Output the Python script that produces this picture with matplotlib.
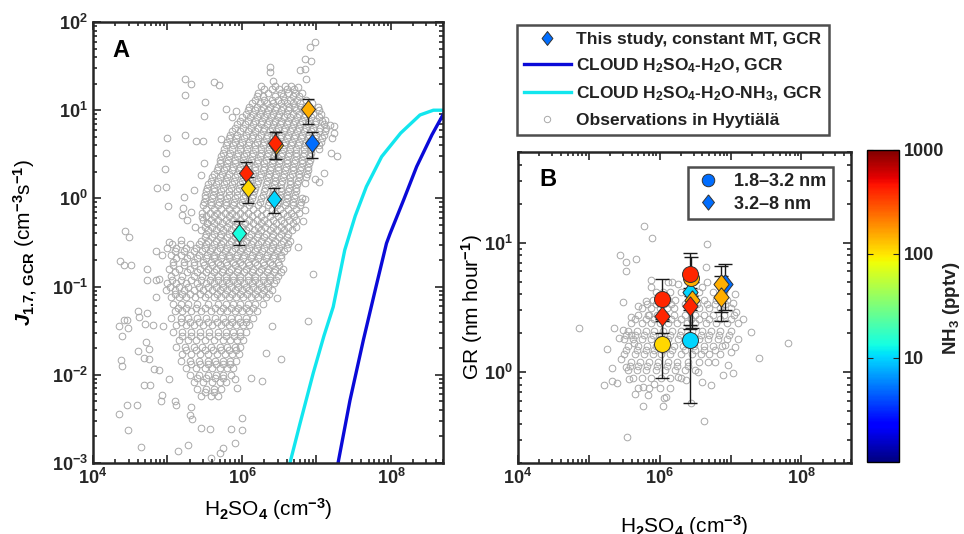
import numpy as np
import matplotlib.pyplot as plt
from matplotlib.colors import LogNorm
from matplotlib.lines import Line2D
from matplotlib.ticker import LogLocator, NullFormatter, FixedLocator, FixedFormatter

plt.rcParams['font.family'] = ['Liberation Sans', 'DejaVu Sans']
plt.rcParams['font.weight'] = 'bold'
plt.rcParams['mathtext.fontset'] = 'custom'
plt.rcParams['mathtext.rm'] = 'Liberation Sans:bold'
plt.rcParams['mathtext.bf'] = 'Liberation Sans:bold'
plt.rcParams['mathtext.it'] = 'Liberation Sans:italic:bold'
plt.rcParams['text.color'] = '#222222'

# ---- panel A: observations in Hyytiala (log10 H2SO4, log10 J)
obs_a_logx = [6.98, 6.91, 6.85, 6.93, 6.84, 6.78, 6.37, 6.38, 6.41, 6.75, 6.86,
              5.23, 5.32, 5.62, 5.69, 5.24, 5.50, 5.49, 5.78, 5.86, 5.92,
              4.99, 5.23, 5.38, 5.48, 5.72, 4.98, 4.96, 4.86, 4.98, 5.01,
              5.22, 5.21, 5.35, 5.45, 5.49, 4.43, 4.49, 5.02, 5.18,
              7.11, 7.18, 7.24, 7.23, 7.21, 7.19, 7.27, 7.10, 6.98, 7.03,
              6.85, 6.85, 6.82, 6.84,
              5.20, 5.26, 5.32, 5.37, 5.46, 5.45, 5.53,
              4.36, 4.42, 4.51, 4.73, 4.73, 4.84, 4.89, 4.85, 4.92, 4.85,
              4.60, 4.72, 4.62, 4.42, 4.35, 4.39, 4.70, 4.80, 4.94, 4.71,
              4.61, 4.75, 4.69, 4.75, 4.39, 4.82, 4.88, 5.02, 4.68, 4.77,
              4.92, 4.91, 4.59, 4.35, 4.47, 4.65, 5.14, 5.28, 5.10, 5.12,
              5.32, 5.30, 5.33, 5.45, 5.57, 5.85, 6.00, 6.00, 5.90, 5.75,
              5.70, 5.59, 4.45, 4.47, 4.37, 4.45,
              6.95, 6.89, 6.53, 6.32, 6.27, 6.12, 6.40, 6.47, 6.75, 5.93, 5.91]
obs_a_logy = [1.77, 1.72, 1.58, 1.56, 1.47, 1.46, 1.49, 1.43, 1.33, 1.26, 1.35,
              1.35, 1.30, 1.32, 1.29, 1.17, 1.09, 0.93, 1.01, 0.92, 0.99,
              0.69, 0.72, 0.65, 0.65, 0.67, 0.52, 0.33, 0.12, 0.13, -0.09,
              0.02, -0.11, 0.10, 0.26, 0.40, -0.37, -0.44, -0.49, -0.47,
              0.89, 0.83, 0.82, 0.74, 0.68, 0.52, 0.48, 0.29, 0.22, 0.19,
              0.17, -0.01, -0.26, -0.13,
              -0.19, -0.245, -0.15, -0.32, -0.21, -0.36, -0.28,
              -0.71, -0.75, -0.75, -0.80, -0.93, -0.92, -0.91, -0.60, -0.64, -1.12,
              -1.28, -1.30, -1.34, -1.38, -1.45, -1.56, -1.42, -1.44, -1.45, -1.63,
              -1.73, -1.71, -1.81, -1.82, -1.90, -1.93, -1.95, -2.05, -2.12, -2.11,
              -2.23, -2.30, -2.34, -2.44, -2.63, -2.82, -2.86, -2.80, -2.30, -2.34,
              -2.36, -2.46, -2.50, -2.60, -2.61, -2.61, -2.63, -2.49, -2.77, -2.83,
              -2.89, -2.94, -1.38, -1.47, -1.83, -2.34,
              -0.86, -1.39, -1.82, -1.75, -2.07, -2.04, -1.45, -1.13, -0.55, -2.15, -2.05]
# dense core of the cloud, row by row: (log10 J, [log10 H2SO4 ...])
obs_a_core = [
    (1.28, [6.25, 6.45, 6.58, 6.66]),
    (1.24, [6.30, 6.40, 6.50, 6.60, 6.70]),
    (1.20, [6.22, 6.35, 6.52, 6.62, 6.71, 6.80]),
    (1.16, [6.20, 6.28, 6.44, 6.55, 6.68, 6.76]),
    (1.12, [6.18, 6.30, 6.40, 6.49, 6.57, 6.65, 6.74, 6.86]),
    (1.08, [6.14, 6.24, 6.33, 6.42, 6.52, 6.60, 6.69, 6.78, 6.94]),
    (1.04, [6.10, 6.20, 6.28, 6.37, 6.46, 6.55, 6.63, 6.70, 6.79, 6.90, 7.02]),
    (1.00, [6.08, 6.17, 6.26, 6.35, 6.44, 6.53, 6.62, 6.72, 6.82, 6.92, 7.04]),
    (0.96, [6.05, 6.15, 6.24, 6.33, 6.42, 6.50, 6.60, 6.68, 6.76, 6.85, 6.95, 7.06]),
    (0.92, [6.00, 6.11, 6.20, 6.30, 6.39, 6.48, 6.57, 6.65, 6.74, 6.83, 6.93, 7.03]),
    (0.88, [5.98, 6.08, 6.18, 6.27, 6.36, 6.45, 6.53, 6.62, 6.71, 6.80, 6.90, 7.00, 7.08]),
    (0.84, [5.94, 6.04, 6.15, 6.25, 6.33, 6.42, 6.51, 6.60, 6.69, 6.78, 6.88, 6.98, 7.10]),
    (0.80, [5.90, 6.01, 6.12, 6.22, 6.30, 6.40, 6.49, 6.58, 6.67, 6.76, 6.86, 6.95, 7.05, 7.13]),
    (0.76, [5.87, 5.97, 6.08, 6.18, 6.28, 6.37, 6.46, 6.56, 6.65, 6.74, 6.83, 6.93, 7.03, 7.12]),
    (0.72, [5.84, 5.94, 6.05, 6.15, 6.25, 6.34, 6.44, 6.53, 6.62, 6.71, 6.80, 6.90, 7.00, 7.10]),
    (0.68, [5.82, 5.92, 6.03, 6.13, 6.22, 6.32, 6.42, 6.51, 6.60, 6.70, 6.79, 6.88, 6.98, 7.08]),
    (0.64, [5.80, 5.90, 6.00, 6.10, 6.20, 6.30, 6.39, 6.48, 6.58, 6.67, 6.76, 6.86, 6.96, 7.06]),
    (0.60, [5.78, 5.88, 5.98, 6.08, 6.18, 6.28, 6.37, 6.47, 6.56, 6.66, 6.75, 6.84, 6.95, 7.04]),
    (0.56, [5.76, 5.86, 5.97, 6.07, 6.17, 6.26, 6.36, 6.45, 6.55, 6.64, 6.73, 6.83, 6.93, 7.03]),
    (0.52, [5.74, 5.84, 5.95, 6.05, 6.15, 6.25, 6.35, 6.44, 6.54, 6.63, 6.73, 6.83, 6.93]),
    (0.48, [5.72, 5.82, 5.93, 6.03, 6.14, 6.24, 6.33, 6.43, 6.52, 6.62, 6.72, 6.82, 6.92]),
    (0.44, [5.71, 5.81, 5.91, 6.02, 6.12, 6.22, 6.32, 6.42, 6.51, 6.61, 6.71, 6.81, 6.91]),
    (0.40, [5.70, 5.80, 5.90, 6.00, 6.10, 6.20, 6.30, 6.40, 6.50, 6.60, 6.70, 6.80, 6.90]),
    (0.36, [5.68, 5.78, 5.88, 5.98, 6.08, 6.18, 6.29, 6.39, 6.49, 6.59, 6.69, 6.79, 6.89]),
    (0.32, [5.66, 5.76, 5.86, 5.96, 6.06, 6.17, 6.28, 6.38, 6.48, 6.58, 6.68, 6.78, 6.88]),
    (0.28, [5.63, 5.73, 5.83, 5.94, 6.04, 6.15, 6.26, 6.36, 6.46, 6.57, 6.67, 6.77, 6.87]),
    (0.24, [5.60, 5.70, 5.80, 5.91, 6.02, 6.13, 6.24, 6.35, 6.45, 6.55, 6.65, 6.76, 6.86]),
    (0.20, [5.58, 5.68, 5.78, 5.89, 6.00, 6.11, 6.22, 6.33, 6.44, 6.54, 6.65, 6.75]),
    (0.16, [5.55, 5.65, 5.76, 5.87, 5.98, 6.09, 6.20, 6.32, 6.43, 6.53, 6.64, 6.74]),
    (0.12, [5.53, 5.63, 5.74, 5.85, 5.96, 6.07, 6.18, 6.31, 6.42, 6.53, 6.63, 6.73]),
    (0.08, [5.52, 5.62, 5.72, 5.83, 5.94, 6.05, 6.16, 6.30, 6.41, 6.52, 6.62, 6.72]),
    (0.04, [5.51, 5.61, 5.71, 5.82, 5.93, 6.04, 6.15, 6.28, 6.40, 6.51, 6.61, 6.71]),
    (0.00, [5.50, 5.60, 5.70, 5.80, 5.91, 6.02, 6.13, 6.26, 6.38, 6.50, 6.60, 6.70, 6.80]),
    (-0.04, [5.49, 5.59, 5.69, 5.79, 5.89, 6.00, 6.11, 6.24, 6.36, 6.48, 6.59, 6.69, 6.79]),
    (-0.08, [5.48, 5.58, 5.68, 5.78, 5.88, 5.98, 6.10, 6.22, 6.35, 6.47, 6.58, 6.68, 6.78]),
    (-0.12, [5.52, 5.62, 5.72, 5.82, 5.92, 6.03, 6.15, 6.27, 6.40, 6.51, 6.62, 6.72]),
    (-0.16, [5.47, 5.57, 5.67, 5.77, 5.87, 5.97, 6.08, 6.20, 6.32, 6.44, 6.55, 6.66, 6.76]),
    (-0.20, [5.52, 5.62, 5.72, 5.82, 5.92, 6.03, 6.14, 6.26, 6.37, 6.48, 6.60, 6.70]),
    (-0.24, [5.48, 5.58, 5.68, 5.78, 5.88, 5.98, 6.09, 6.20, 6.30, 6.41, 6.52, 6.63, 6.73]),
    (-0.28, [5.53, 5.63, 5.73, 5.83, 5.93, 6.04, 6.15, 6.25, 6.35, 6.46, 6.57, 6.68]),
    (-0.32, [5.50, 5.60, 5.70, 5.80, 5.90, 6.00, 6.10, 6.21, 6.31, 6.42, 6.52, 6.62, 6.72]),
    (-0.36, [5.55, 5.65, 5.75, 5.85, 5.95, 6.05, 6.16, 6.26, 6.37, 6.47, 6.57, 6.67]),
    (-0.40, [5.52, 5.62, 5.72, 5.82, 5.92, 6.02, 6.12, 6.22, 6.32, 6.42, 6.52, 6.62]),
    (-0.44, [5.50, 5.60, 5.70, 5.80, 5.90, 6.00, 6.10, 6.20, 6.30, 6.40, 6.50, 6.60]),
    (-0.48, [5.45, 5.55, 5.65, 5.75, 5.85, 5.95, 6.05, 6.15, 6.25, 6.35, 6.45, 6.55, 6.65]),
    (-0.52, [5.06, 5.18, 5.30, 5.42, 5.52, 5.62, 5.72, 5.82, 5.92, 6.02, 6.12, 6.22, 6.32, 6.42, 6.52, 6.62]),
    (-0.56, [5.00, 5.12, 5.25, 5.38, 5.50, 5.60, 5.70, 5.80, 5.90, 6.00, 6.10, 6.20, 6.30, 6.40, 6.50, 6.60]),
    (-0.60, [5.10, 5.22, 5.35, 5.46, 5.57, 5.67, 5.77, 5.87, 5.97, 6.07, 6.17, 6.27, 6.37, 6.47, 6.57]),
    (-0.64, [5.05, 5.18, 5.30, 5.42, 5.53, 5.63, 5.73, 5.83, 5.93, 6.03, 6.13, 6.23, 6.33, 6.43, 6.53]),
    (-0.68, [5.12, 5.26, 5.40, 5.52, 5.62, 5.72, 5.82, 5.92, 6.02, 6.12, 6.22, 6.32, 6.42, 6.52]),
    (-0.72, [5.08, 5.22, 5.36, 5.48, 5.58, 5.68, 5.78, 5.88, 5.98, 6.08, 6.18, 6.28, 6.38, 6.48]),
    (-0.76, [5.08, 5.22, 5.36, 5.49, 5.60, 5.70, 5.80, 5.90, 6.00, 6.10, 6.20, 6.30, 6.40, 6.50]),
    (-0.80, [5.02, 5.15, 5.30, 5.44, 5.55, 5.65, 5.75, 5.85, 5.95, 6.05, 6.15, 6.25, 6.35, 6.45, 6.55]),
    (-0.84, [5.10, 5.26, 5.40, 5.52, 5.63, 5.73, 5.83, 5.93, 6.03, 6.13, 6.23, 6.33, 6.43, 6.52]),
    (-0.88, [5.05, 5.20, 5.35, 5.47, 5.58, 5.68, 5.78, 5.88, 5.98, 6.08, 6.18, 6.28, 6.38, 6.48]),
    (-0.92, [5.06, 5.18, 5.32, 5.45, 5.57, 5.68, 5.78, 5.88, 5.98, 6.08, 6.18, 6.28, 6.38, 6.46]),
    (-0.96, [5.00, 5.12, 5.25, 5.40, 5.52, 5.63, 5.73, 5.83, 5.93, 6.03, 6.13, 6.23, 6.33, 6.43]),
    (-1.00, [5.04, 5.16, 5.28, 5.42, 5.54, 5.65, 5.75, 5.85, 5.95, 6.05, 6.15, 6.25, 6.35]),
    (-1.04, [4.98, 5.10, 5.22, 5.35, 5.48, 5.60, 5.70, 5.80, 5.90, 6.00, 6.10, 6.20, 6.30, 6.40]),
    (-1.08, [5.10, 5.20, 5.30, 5.43, 5.55, 5.67, 5.77, 5.87, 5.97, 6.07, 6.17, 6.27, 6.36]),
    (-1.12, [5.05, 5.15, 5.25, 5.37, 5.50, 5.62, 5.72, 5.82, 5.92, 6.02, 6.12, 6.22, 6.32]),
    (-1.20, [5.08, 5.18, 5.28, 5.40, 5.55, 5.68, 5.78, 5.88, 5.98, 6.08, 6.18, 6.28]),
    (-1.24, [5.14, 5.25, 5.38, 5.51, 5.64, 5.75, 5.85, 5.95, 6.05, 6.15]),
    (-1.28, [5.10, 5.20, 5.32, 5.45, 5.58, 5.70, 5.80, 5.90, 6.00, 6.10, 6.20]),
    (-1.36, [5.05, 5.18, 5.28, 5.40, 5.52, 5.64, 5.75, 5.85, 5.95, 6.05, 6.15]),
    (-1.40, [5.18, 5.30, 5.42, 5.54, 5.66, 5.77, 5.87, 5.97, 6.06]),
    (-1.44, [5.12, 5.25, 5.36, 5.48, 5.60, 5.72, 5.82, 5.92, 6.02, 6.10]),
    (-1.52, [5.08, 5.20, 5.32, 5.44, 5.56, 5.68, 5.78, 5.88, 5.98, 6.06]),
    (-1.56, [5.20, 5.32, 5.44, 5.56, 5.68, 5.79, 5.89, 5.98]),
    (-1.60, [5.15, 5.27, 5.38, 5.50, 5.62, 5.74, 5.84, 5.94, 6.02]),
    (-1.68, [5.12, 5.24, 5.35, 5.47, 5.58, 5.70, 5.80, 5.90, 5.98]),
    (-1.72, [5.25, 5.38, 5.50, 5.61, 5.72, 5.82, 5.92]),
    (-1.76, [5.20, 5.32, 5.44, 5.55, 5.66, 5.77, 5.87, 5.96]),
    (-1.84, [5.18, 5.30, 5.42, 5.54, 5.64, 5.74, 5.84, 5.92]),
    (-1.88, [5.31, 5.44, 5.55, 5.65, 5.75, 5.84]),
    (-1.92, [5.25, 5.38, 5.50, 5.60, 5.70, 5.80, 5.88]),
    (-2.00, [5.30, 5.42, 5.55, 5.65, 5.75, 5.85]),
    (-2.04, [5.40, 5.52, 5.64, 5.74]),
    (-2.08, [5.35, 5.48, 5.60, 5.70, 5.78]),
    (-2.16, [5.40, 5.52, 5.62, 5.72]),
    (-2.20, [5.50, 5.62]),
    (-2.24, [5.45, 5.58, 5.68]),
]

# ---- panel A: this study (diamonds)
a_h2so4 = [7.6e6, 8.6e6, 2.9e6, 2.75e6, 1.13e6, 1.19e6, 2.7e6, 0.91e6]
a_j = [10.3, 4.2, 4.0, 4.3, 1.95, 1.3, 0.98, 0.41]
a_j_low = [7.0, 2.9, 2.8, 2.8, 1.45, 0.89, 0.68, 0.30]
a_j_high = [13.3, 5.6, 5.6, 5.6, 2.6, 1.75, 1.3, 0.55]
a_nh3 = [150, 5, 150, 400, 400, 110, 10, 14]

# ---- panel A: CLOUD parameterisations (log10 H2SO4, log10 J)
cloud_nh3_logx = [6.644, 6.78, 6.957, 7.10, 7.225, 7.38, 7.52, 7.67, 7.875, 8.13, 8.39, 8.57, 8.70]
cloud_nh3_logy = [-3.0, -2.55, -1.98, -1.56, -1.23, -0.585, -0.20, 0.133, 0.473, 0.74, 0.946, 1.0, 1.0]
cloud_h2o_logx = [7.29, 7.45, 7.63, 7.80, 7.94, 7.99, 8.17, 8.345, 8.55, 8.70]
cloud_h2o_logy = [-3.0, -2.29, -1.605, -1.0, -0.51, -0.396, -0.018, 0.36, 0.72, 0.95]

# ---- panel B: observations (log10 H2SO4, log10 GR)
obs_b_logx = [5.78, 5.89, 6.66, 5.44, 5.53, 5.67, 5.53, 6.65, 5.87, 5.87, 6.11, 6.18,
              6.26, 6.59, 6.66, 7.06, 7.04, 5.48, 5.69, 5.81, 5.83, 5.59, 7.08, 7.18,
              7.29, 7.81, 7.40, 4.86, 5.35, 5.43, 5.48, 5.26, 5.60, 5.64, 5.45, 5.33,
              5.52, 5.22, 5.33, 5.39, 5.57, 5.65, 5.76, 5.84, 5.77, 5.92, 6.06, 6.04,
              6.09, 6.44, 6.62, 5.54, 6.26, 6.37, 6.60, 6.73, 6.89, 7.04, 6.96, 6.78,
              6.54, 6.92, 7.06, 7.01]
obs_b_logy = [1.125, 1.036, 0.99, 0.908, 0.854, 0.872, 0.782, 0.81, 0.713, 0.656, 0.695, 0.695,
              0.68, 0.66, 0.695, 0.605, 0.536, 0.546, 0.515, 0.55, 0.444, 0.425, 0.464, 0.413,
              0.31, 0.228, 0.11, 0.344, 0.341, 0.267, 0.33, 0.18, 0.285, 0.228, 0.105, 0.033,
              0.04, -0.10, -0.067, -0.08, -0.05, -0.164, -0.113, -0.177, -0.26, -0.087, -0.197, -0.26,
              -0.19, -0.233, -0.377, -0.50, -0.036, -0.062, -0.075, -0.10, -0.023, -0.002, 0.054, 0.079,
              0.003, 0.208, 0.195, 0.156]
obs_b_core = [
    (0.62, [5.95, 6.05, 6.15, 6.30, 6.55, 6.75, 6.90]),
    (0.56, [5.90, 6.02, 6.12, 6.22, 6.45, 6.62, 6.80, 6.95]),
    (0.53, [5.82, 5.95, 6.06, 6.16, 6.35, 6.52, 6.66, 6.78, 6.92]),
    (0.50, [5.75, 5.88, 6.00, 6.10, 6.20, 6.42, 6.55, 6.70, 6.85, 7.00]),
    (0.44, [5.70, 5.85, 5.96, 6.08, 6.20, 6.35, 6.50, 6.62, 6.75, 6.90, 7.05]),
    (0.41, [5.65, 5.80, 5.92, 6.04, 6.16, 6.30, 6.44, 6.56, 6.70, 6.85, 7.00]),
    (0.38, [5.60, 5.75, 5.88, 6.00, 6.12, 6.25, 6.38, 6.50, 6.65, 6.80, 6.95, 7.10]),
    (0.32, [5.55, 5.68, 5.80, 5.92, 6.05, 6.18, 6.30, 6.45, 6.60, 6.72, 6.85, 7.00]),
    (0.29, [5.52, 5.65, 5.78, 5.90, 6.02, 6.15, 6.28, 6.42, 6.58, 6.70, 6.84, 6.98]),
    (0.26, [5.50, 5.62, 5.75, 5.88, 6.00, 6.12, 6.26, 6.40, 6.55, 6.68, 6.82, 6.95, 7.10]),
    (0.20, [5.55, 5.70, 5.82, 5.95, 6.08, 6.20, 6.33, 6.48, 6.62, 6.75, 6.88]),
    (0.17, [5.52, 5.68, 5.80, 5.92, 6.05, 6.18, 6.35, 6.50, 6.62, 6.78]),
    (0.14, [5.50, 5.65, 5.78, 5.90, 6.02, 6.15, 6.30, 6.45, 6.58, 6.70, 6.85]),
    (0.08, [5.60, 5.72, 5.85, 5.98, 6.12, 6.25, 6.40, 6.55, 6.68]),
    (0.05, [5.58, 5.70, 5.82, 5.96, 6.10, 6.25, 6.40]),
    (0.02, [5.55, 5.68, 5.80, 5.95, 6.08, 6.22, 6.35, 6.50]),
    (-0.04, [5.62, 5.75, 5.88, 6.02, 6.15, 6.30]),
    (-0.12, [5.70, 5.85, 6.00, 6.15]),
]

# ---- panel B: growth rates, 1.8-3.2 nm (circles) and 3.2-8 nm (diamonds)
b_circ_h2so4 = [1.08e6, 1.08e6, 2.8e6, 2.67e6, 2.67e6]
b_circ_gr = [3.69, 1.66, 5.3, 5.74, 1.78]
b_circ_low = [2.6, 0.91, 3.9, 4.1, 0.585]
b_circ_high = [5.25, 2.5, 7.7, 8.3, 3.0]
b_circ_nh3 = [400, 110, 150, 400, 10]

b_diam_h2so4 = [1.08e6, 2.67e6, 2.85e6, 2.67e6, 8.3e6, 7.4e6, 7.4e6]
b_diam_gr = [2.74, 4.2, 3.6, 3.24, 4.8, 4.8, 3.84]
b_diam_low = [2.0, 2.3, 2.2, 2.15, 3.0, 2.9, 2.5]
b_diam_high = [3.6, 5.9, 5.0, 4.5, 6.9, 6.6, 5.5]
b_diam_nh3 = [400, 10, 150, 400, 5, 150, 150]

x_tick_vals = [1e4, 1e5, 1e6, 1e7, 1e8]
x_tick_labels = ['$10^4$', '', '$10^6$', '', '$10^8$']

cmap = plt.cm.jet
norm = LogNorm(1, 1000)
diamond = [(0, 1), (0.78, 0), (0, -1), (-0.78, 0), (0, 1)]
grey = '#a8a8a8'
W, H = 964, 534


def expand(logx, logy, core):
    xs, ys = list(logx), list(logy)
    for yv, row in core:
        xs += row
        ys += [yv] * len(row)
    return 10 ** np.array(xs), 10 ** np.array(ys)


def style_axes(ax):
    for s in ax.spines.values():
        s.set_linewidth(1.8)
        s.set_color('#262626')
    ax.tick_params(which='both', direction='in', top=True, right=True,
                   colors='#262626', labelsize=13, width=1.2)
    ax.tick_params(which='major', length=6)
    ax.tick_params(which='minor', length=3)
    ax.xaxis.set_major_locator(FixedLocator(x_tick_vals))
    ax.xaxis.set_major_formatter(FixedFormatter(x_tick_labels))
    ax.xaxis.set_minor_locator(LogLocator(base=10, subs=np.arange(2, 10)))
    ax.xaxis.set_minor_formatter(NullFormatter())
    ax.yaxis.set_minor_locator(LogLocator(base=10, subs=np.arange(2, 10)))
    ax.yaxis.set_minor_formatter(NullFormatter())


fig = plt.figure(figsize=(W / 100, H / 100), dpi=100)
ax_a = fig.add_axes([93 / W, 1 - 463 / H, 350 / W, 441 / H])
ax_b = fig.add_axes([518 / W, 1 - 463 / H, 333 / W, 311 / H])
cax = fig.add_axes([867 / W, 1 - 462 / H, 32 / W, 312 / H])

# panel A
ox, oy = expand(obs_a_logx, obs_a_logy, obs_a_core)
ax_a.plot(ox, oy, 'o', mfc='none', mec=grey, ms=4.8, mew=0.7, zorder=1)
ax_a.plot(10 ** np.array(cloud_nh3_logx), 10 ** np.array(cloud_nh3_logy),
          color='#12e6ee', lw=2.4, zorder=2)
ax_a.plot(10 ** np.array(cloud_h2o_logx), 10 ** np.array(cloud_h2o_logy),
          color='#0a0ad8', lw=2.4, zorder=2)
for i in range(len(a_j)):
    ax_a.errorbar(a_h2so4[i], a_j[i],
                  yerr=[[a_j[i] - a_j_low[i]], [a_j_high[i] - a_j[i]]],
                  fmt='none', ecolor='#1a1a1a', elinewidth=1, capsize=4, zorder=3)
    ax_a.plot(a_h2so4[i], a_j[i], marker=diamond, ms=13, ls='none',
              mfc=cmap(norm(a_nh3[i])), mec='#333333', mew=0.7, zorder=4)
ax_a.set_xscale('log')
ax_a.set_yscale('log')
ax_a.set_xlim(1e4, 5e8)
ax_a.set_ylim(1e-3, 1e2)
style_axes(ax_a)
ax_a.yaxis.set_major_locator(LogLocator(base=10, numticks=10))
ax_a.set_xlabel('H$_2$SO$_4$ (cm$^{-3}$)', fontsize=15)
ax_a.xaxis.set_label_coords(0.5, -0.075)
ax_a.set_ylabel('$J_{1.7,\\,\\mathrm{GCR}}$ (cm$^{-3}$s$^{-1}$)', fontsize=15)
ax_a.yaxis.set_label_coords(-0.15, 0.5)
ax_a.text(0.055, 0.935, 'A', transform=ax_a.transAxes, fontsize=17,
          fontweight='bold', va='center', color='black')

# panel B
bx, by = expand(obs_b_logx, obs_b_logy, obs_b_core)
ax_b.plot(bx, by, 'o', mfc='none', mec=grey, ms=4.8, mew=0.7, zorder=1)
for i in range(len(b_diam_gr)):
    ax_b.errorbar(b_diam_h2so4[i], b_diam_gr[i],
                  yerr=[[b_diam_gr[i] - b_diam_low[i]], [b_diam_high[i] - b_diam_gr[i]]],
                  fmt='none', ecolor='#1a1a1a', elinewidth=1, capsize=5, zorder=3)
for i in range(len(b_circ_gr)):
    ax_b.errorbar(b_circ_h2so4[i], b_circ_gr[i],
                  yerr=[[b_circ_gr[i] - b_circ_low[i]], [b_circ_high[i] - b_circ_gr[i]]],
                  fmt='none', ecolor='#1a1a1a', elinewidth=1, capsize=5, zorder=3)
for i in range(len(b_diam_gr)):
    ax_b.plot(b_diam_h2so4[i], b_diam_gr[i], marker=diamond, ms=14, ls='none',
              mfc=cmap(norm(b_diam_nh3[i])), mec='#333333', mew=0.7, zorder=4)
for i in range(len(b_circ_gr)):
    ax_b.plot(b_circ_h2so4[i], b_circ_gr[i], 'o', ms=11.5,
              mfc=cmap(norm(b_circ_nh3[i])), mec='#333333', mew=0.7, zorder=5)
ax_b.set_xscale('log')
ax_b.set_yscale('log')
ax_b.set_xlim(1e4, 5e8)
ax_b.set_ylim(0.2, 50)
style_axes(ax_b)
ax_b.yaxis.set_major_locator(FixedLocator([1, 10]))
ax_b.yaxis.set_major_formatter(FixedFormatter(['$10^0$', '$10^1$']))
ax_b.set_xlabel('H$_2$SO$_4$ (cm$^{-3}$)', fontsize=15)
ax_b.xaxis.set_label_coords(0.5, -0.16)
ax_b.set_ylabel('GR (nm hour$^{-1}$)', fontsize=15)
ax_b.yaxis.set_label_coords(-0.1, 0.5)
ax_b.text(0.065, 0.91, 'B', transform=ax_b.transAxes, fontsize=17,
          fontweight='bold', va='center', color='black')

leg_blue = cmap(norm(5))
hb = [Line2D([], [], marker='o', ls='none', ms=9, mfc=leg_blue, mec='#333333', mew=0.7),
      Line2D([], [], marker=diamond, ls='none', ms=11, mfc=leg_blue, mec='#333333', mew=0.7)]
leg_b = ax_b.legend(hb, ['1.8–3.2 nm', '3.2–8 nm'], loc='upper right',
                    bbox_to_anchor=(0.946, 0.952), borderaxespad=0, fancybox=False,
                    edgecolor='#222222', handlelength=1.5, borderpad=0.35,
                    labelspacing=0.3, handletextpad=0.7,
                    prop={'weight': 'bold', 'size': 13})
leg_b.get_frame().set_linewidth(1.8)

# legend of panel A, sitting above panel B
ha = [Line2D([], [], marker=diamond, ls='none', ms=10, mfc=leg_blue, mec='#333333', mew=0.7),
      Line2D([], [], color='#0a0ad8', lw=2.4),
      Line2D([], [], color='#12e6ee', lw=2.4),
      Line2D([], [], marker='o', ls='none', ms=4.6, mfc='none', mec=grey, mew=0.7)]
la = ['This study, constant MT, GCR', 'CLOUD H$_2$SO$_4$-H$_2$O, GCR',
      'CLOUD H$_2$SO$_4$-H$_2$O-NH$_3$, GCR', 'Observations in Hyytiälä']
leg_a = fig.legend(ha, la, loc='upper left', bbox_to_anchor=(517 / W, 1 - 25 / H),
                   borderaxespad=0, fancybox=False, edgecolor='#222222',
                   handlelength=2.7, borderpad=0.4, labelspacing=0.55,
                   handletextpad=0.3, prop={'weight': 'bold', 'size': 12.5})
leg_a.get_frame().set_linewidth(1.8)

# colour bar
sm = plt.cm.ScalarMappable(norm=norm, cmap=cmap)
cb = fig.colorbar(sm, cax=cax)
cb.set_ticks([10, 100, 1000])
cb.set_ticklabels(['10', '100', '1000'])
cb.minorticks_off()
cb.outline.set_linewidth(1.0)
cax.tick_params(direction='in', length=4, left=True, labelsize=13, colors='#262626')
fig.text(952 / W, 1 - 308 / H, 'NH$_3$ (pptv)', rotation=90, ha='center',
         va='center', fontsize=13.5)

fig.savefig('out.png', dpi=100)
